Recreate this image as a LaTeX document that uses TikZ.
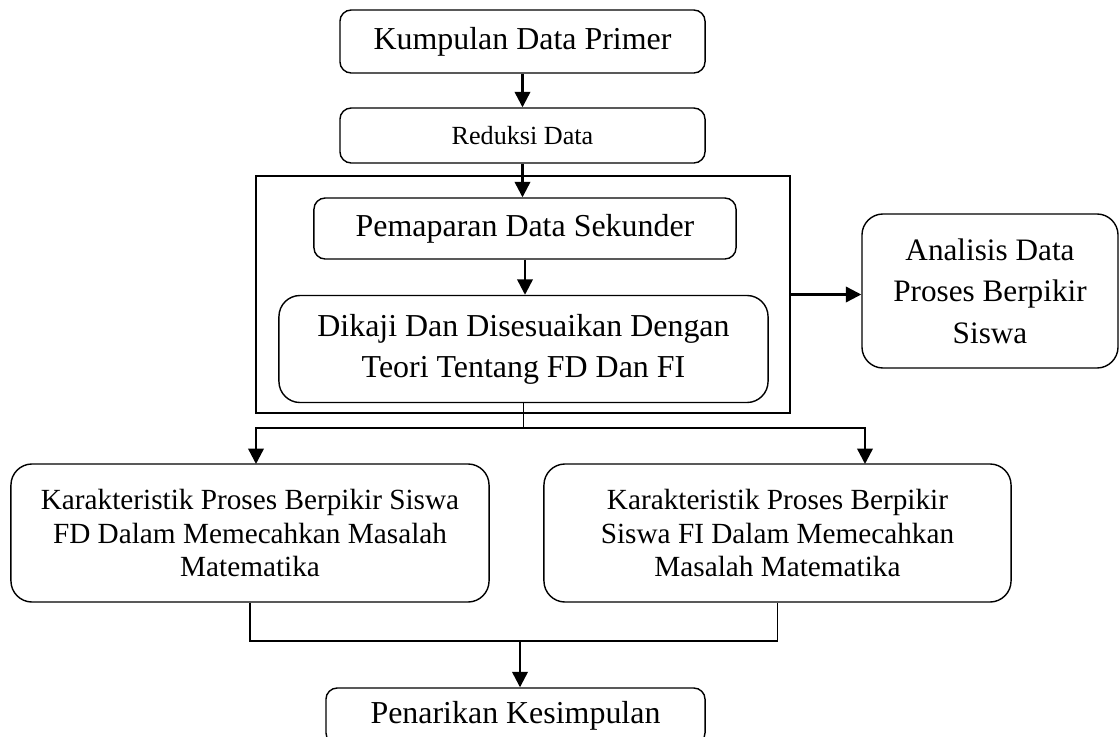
\documentclass[tikz,border=0pt]{standalone}
\usepackage{fontspec}
\setmainfont{Liberation Serif}
\usetikzlibrary{arrows.meta}
\begin{document}
\begin{tikzpicture}[x=0.025cm,y=-0.025cm]
\tikzstyle{every node}+=[inner sep=0pt, align=center]
\tikzstyle{box}=[draw, line width=1pt, rounded corners=8pt, font=\fontsize{22.7}{27}\selectfont]
\tikzstyle{bigbox}=[box, rounded corners=15pt]
\tikzstyle{arr}=[line width=1.7pt, -{Triangle[length=11pt,width=11pt]}]
\tikzstyle{conn}=[line width=1pt]
\clip (0,0) rectangle (1120,737);
\node [draw, line width=1.4pt, minimum width=13.35cm, minimum height=5.925cm] (frame) at (523,294.5) {};
\node [box, minimum width=9.125cm, minimum height=1.575cm] (prim) at (522.5,41.5) {Kumpulan Data Primer};
\node [box, minimum width=9.125cm, minimum height=1.375cm, font=\fontsize{18.6}{22}\selectfont] (red) at (522.5,135.5) {Reduksi Data};
\node [box, minimum width=10.55cm, minimum height=1.525cm] (pem) at (525,228.5) {Pemaparan Data Sekunder};
\node [bigbox, minimum width=12.225cm, minimum height=2.675cm, font=\fontsize{22.7}{29}\selectfont] (kaji) at (523.5,349) {Dikaji Dan Disesuaikan Dengan\\Teori Tentang FD Dan FI};
\node [bigbox, minimum width=6.4cm, minimum height=3.85cm, font=\fontsize{22.2}{29.6}\selectfont] (ana) at (990,291) {Analisis Data\\Proses Berpikir\\Siswa};
\node [bigbox, minimum width=11.95cm, minimum height=3.45cm, font=\fontsize{20.8}{24}\selectfont] (fd) at (250,533) {Karakteristik Proses Berpikir Siswa\\FD Dalam Memecahkan Masalah\\Matematika};
\node [bigbox, minimum width=11.675cm, minimum height=3.45cm, font=\fontsize{20.8}{24}\selectfont] (fi) at (777.5,533) {Karakteristik Proses Berpikir\\Siswa FI Dalam Memecahkan\\Masalah Matematika};
\node [box, minimum width=9.475cm, minimum height=1.4cm] (kes) at (515.5,716) {Penarikan Kesimpulan};
% connectors
\draw [arr] (prim.south) -- (red.north);
\draw [arr] (red.south) -- (red.south |- pem.north);
\draw [arr] (pem.south) -- (pem.south |- kaji.north);
\draw [arr] (frame.east) -- (frame.east -| ana.west);
\coordinate (split) at (523.5,428);
\coordinate (fdin) at (256,464);
\coordinate (fiin) at (865,464);
\draw [conn, line width=1.4pt] (kaji.south) -- (split);
\draw [arr] (split) -| (fdin);
\draw [arr] (split) -| (fiin);
\coordinate (join) at (520,641);
\draw [conn] (fd.south) |- (join) -| (fi.south);
\draw [arr] (join) -- (join |- kes.north);
\end{tikzpicture}
\end{document}
